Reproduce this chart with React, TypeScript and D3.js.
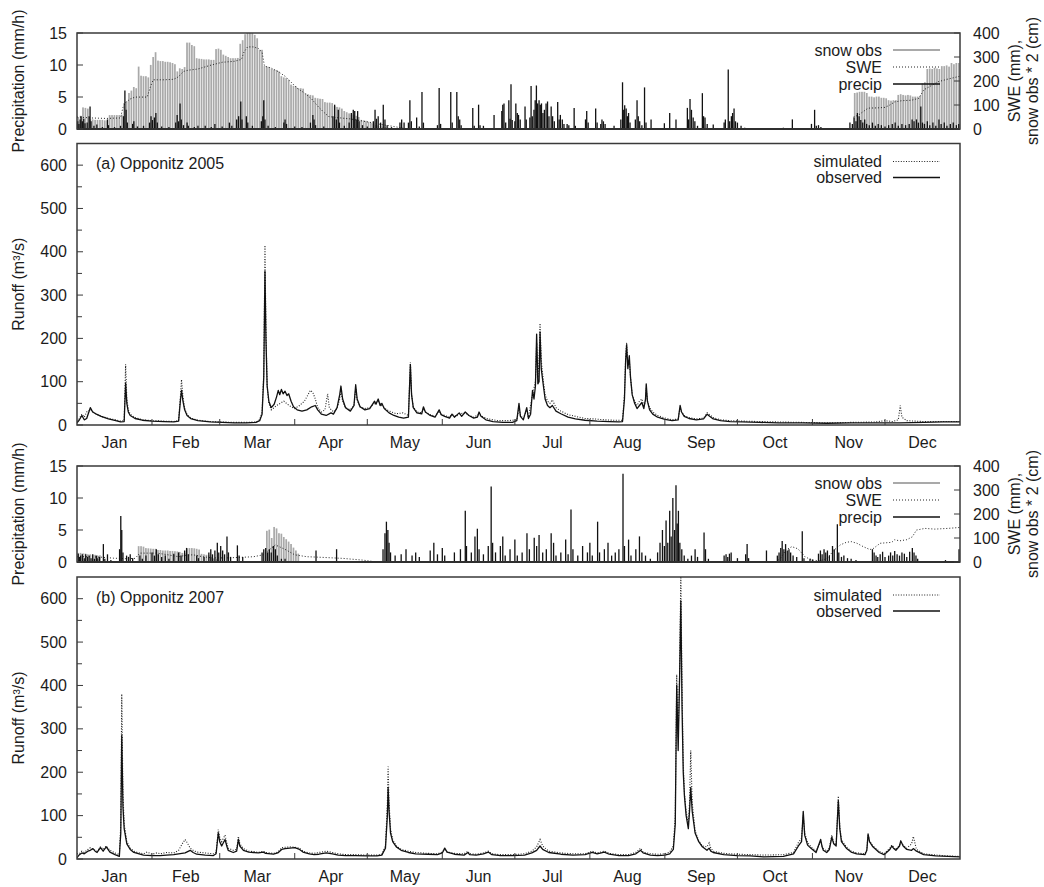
import React, { useEffect } from 'react';
import * as d3 from 'd3';

type Pt = [number, number];

// ---------- axis / label values ----------
const monthLabels = ['Jan', 'Feb', 'Mar', 'Apr', 'May', 'Jun', 'Jul', 'Aug', 'Sep', 'Oct', 'Nov', 'Dec'];
const monthStarts = [0, 31, 59, 90, 120, 151, 181, 212, 243, 273, 304, 334, 365];
const precipTicks = [0, 5, 10, 15];
const snowTicks = [0, 100, 200, 300, 400];
const runoffTicks = [0, 100, 200, 300, 400, 500, 600];
const runoffMinorTicks = [50, 150, 250, 350, 450, 550];

// ---------- 2005: precipitation (mm/h), [day of year, value] ----------
const precip2005: Pt[] = [
  [0.3, 1.2], [0.8, 0.8], [1.3, 1.5], [1.7, 2.0], [2.2, 1.2], [2.8, 1.6], [3.3, 0.9], [4.2, 1.0], [5.0, 2.0], [5.4, 3.5], [5.8, 1.2],
  [7.0, 0.5], [8.2, 0.7], [10.5, 0.3], [12.6, 1.5], [13.0, 0.6], [15.5, 0.3], [18.0, 0.5], [19.2, 2.0], [19.8, 6.0], [20.3, 3.0],
  [20.8, 1.0], [23.0, 0.8], [23.5, 1.2], [25.0, 0.4], [27.5, 0.5], [30.0, 1.0], [30.6, 2.0], [31.2, 1.4], [32.0, 1.8], [32.6, 2.5],
  [33.2, 1.0], [35.0, 0.4], [38.0, 0.3], [40.8, 1.0], [41.4, 2.2], [42.0, 1.2], [42.6, 4.0], [43.1, 1.5], [44.0, 0.6], [45.5, 1.0],
  [46.0, 0.5], [48.5, 0.3], [50.0, 0.5], [53.0, 0.5], [55.5, 0.3], [57.0, 0.8], [60.0, 0.4], [63.0, 1.0], [64.0, 0.5], [66.0, 1.5],
  [66.8, 2.0], [67.7, 4.3], [68.2, 1.5], [70.0, 2.0], [70.6, 1.0], [72.5, 0.5], [76.2, 1.2], [76.8, 2.0], [77.2, 4.5], [77.7, 1.5],
  [79.0, 0.5], [82.0, 0.3], [85.5, 1.0], [86.0, 1.5], [86.6, 0.8], [90.0, 0.4], [93.0, 0.3], [96.5, 1.0], [97.5, 2.2], [98.0, 1.5],
  [98.6, 0.6], [102.0, 0.4], [105.8, 2.0], [106.5, 3.8], [107.2, 1.5], [108.0, 3.0], [108.5, 1.0], [110.5, 0.5], [112.5, 1.0],
  [113.4, 2.5], [114.2, 3.0], [114.8, 2.8], [115.4, 1.5], [116.0, 2.8], [116.6, 1.2], [118.0, 0.6], [120.0, 0.4], [122.5, 1.2],
  [123.2, 3.0], [123.8, 1.6], [124.5, 2.0], [125.5, 1.0], [126.6, 3.8], [127.3, 1.5], [128.2, 0.6], [130.0, 0.3], [133.5, 1.0],
  [134.2, 1.5], [135.2, 1.0], [137.0, 1.0], [137.6, 4.5], [138.2, 1.2], [140.4, 1.8], [141.5, 0.4], [142.6, 5.8], [143.2, 1.0],
  [149.0, 0.6], [149.7, 6.4], [150.3, 0.8], [154.5, 5.8], [155.1, 1.0], [157.0, 5.8], [157.6, 2.0], [158.2, 1.5], [158.8, 0.6],
  [163.6, 3.3], [164.2, 0.5], [166.0, 3.8], [166.6, 0.6], [168.0, 0.5], [172.4, 2.2], [175.6, 2.8], [176.0, 3.8], [176.5, 4.0],
  [177.2, 1.0], [178.5, 4.5], [179.0, 1.6], [179.4, 7.0], [179.9, 1.4], [181.0, 1.2], [181.4, 4.0], [182.0, 2.5], [182.5, 2.2],
  [183.2, 1.5], [185.2, 3.5], [185.7, 1.5], [187.2, 1.8], [187.7, 6.7], [188.2, 2.0], [188.9, 3.0], [189.4, 4.5], [189.9, 6.8],
  [190.4, 4.0], [191.0, 4.5], [191.5, 3.8], [192.0, 4.0], [192.6, 2.5], [193.2, 3.0], [193.9, 4.0], [194.5, 4.3], [195.1, 2.0],
  [196.0, 3.5], [196.6, 2.0], [197.3, 1.2], [198.7, 4.2], [199.3, 1.5], [199.8, 2.2], [200.6, 1.5], [201.3, 0.8], [202.6, 0.8],
  [203.3, 0.6], [205.5, 3.3], [206.0, 0.5], [210.2, 1.5], [210.7, 2.8], [211.3, 1.0], [214.4, 3.2], [215.0, 1.0], [216.5, 0.8],
  [217.0, 1.5], [217.6, 1.2], [218.3, 0.8], [222.0, 0.5], [224.8, 1.5], [225.5, 7.3], [226.0, 3.0], [226.4, 3.7], [227.0, 3.2],
  [227.5, 2.0], [228.0, 2.5], [228.6, 1.0], [230.8, 1.5], [231.5, 4.5], [232.0, 2.0], [232.6, 1.2], [233.5, 0.6], [234.6, 6.5],
  [235.2, 1.0], [237.3, 1.5], [242.8, 0.9], [245.0, 2.5], [247.6, 1.5], [252.3, 3.3], [252.8, 1.5], [253.4, 4.7], [254.0, 3.0],
  [254.7, 1.8], [255.4, 1.2], [256.5, 0.5], [258.5, 5.6], [259.0, 2.0], [259.6, 1.8], [260.5, 0.8], [263.0, 0.7], [267.5, 1.0],
  [268.0, 1.5], [269.2, 9.3], [269.8, 1.2], [270.5, 2.0], [271.0, 2.5], [271.6, 3.2], [272.2, 1.2], [273.0, 1.0], [274.5, 0.5],
  [276.0, 0.2], [292.0, 0.2], [295.7, 1.5], [303.6, 0.8], [304.9, 3.0], [305.6, 0.5], [306.5, 0.6], [307.5, 0.3], [319.5, 1.0],
  [320.5, 0.8], [321.2, 1.8], [322.0, 1.2], [322.6, 2.5], [323.3, 2.0], [324.0, 1.4], [324.8, 1.0], [325.6, 1.5], [326.4, 0.8],
  [327.5, 0.6], [328.8, 1.0], [330.0, 0.5], [331.2, 0.8], [332.5, 0.6], [334.0, 0.4], [335.5, 0.6], [337.0, 0.8], [338.2, 1.0],
  [339.5, 0.5], [341.0, 0.8], [342.5, 0.6], [344.0, 0.8], [345.2, 1.5], [346.0, 1.2], [347.0, 1.5], [347.8, 1.0], [348.8, 3.5],
  [349.5, 1.0], [350.3, 0.8], [351.5, 1.2], [352.5, 0.6], [353.8, 1.0], [355.0, 0.5], [356.3, 1.5], [357.2, 0.8], [358.5, 1.0],
  [359.6, 0.5], [361.0, 0.8], [362.2, 1.0], [363.5, 0.6], [364.5, 0.8],
];

// 2005: observed snow depth * 2 (cm), one bar per day
const snowObs2005: Pt[] = [
  [0, 50], [1, 55], [2, 90], [3, 88], [4, 85], [5, 40], [6, 40], [7, 38], [8, 38], [9, 38], [10, 38], [11, 36], [12, 36],
  [13, 58], [14, 58], [15, 58], [16, 58], [17, 58], [18, 60], [19, 108], [20, 115], [21, 150], [22, 160], [23, 175], [24, 170],
  [25, 260], [26, 222], [27, 220], [28, 220], [29, 215], [30, 267], [31, 300], [32, 320], [33, 285], [34, 283], [35, 283],
  [36, 280], [37, 280], [38, 278], [39, 275], [40, 270], [41, 240], [42, 253], [43, 250], [44, 258], [45, 360], [46, 360],
  [47, 350], [48, 345], [49, 295], [50, 293], [51, 292], [52, 290], [53, 290], [54, 290], [55, 288], [56, 288], [57, 333],
  [58, 335], [59, 330], [60, 310], [61, 305], [62, 300], [63, 295], [64, 295], [65, 295], [66, 296], [67, 355], [68, 370],
  [69, 395], [70, 400], [71, 400], [72, 400], [73, 392], [74, 378], [75, 330], [76, 330], [77, 262], [78, 260], [79, 258],
  [80, 250], [81, 248], [82, 246], [83, 240], [84, 220], [85, 215], [86, 212], [87, 205], [88, 185], [89, 180], [90, 178],
  [91, 170], [92, 170], [93, 168], [94, 148], [95, 145], [96, 142], [97, 140], [98, 130], [99, 128], [100, 126], [101, 125],
  [102, 112], [103, 110], [104, 110], [105, 108], [106, 95], [107, 92], [108, 90], [109, 85], [110, 75], [111, 70], [112, 65],
  [113, 60], [114, 58], [115, 55], [116, 50], [117, 38], [118, 36], [119, 34], [120, 30], [121, 26], [122, 22], [123, 18],
  [124, 15], [125, 12], [126, 10], [127, 8], [128, 6],
  [321, 150], [322, 152], [323, 155], [324, 155], [325, 155], [326, 150], [327, 135], [328, 135], [329, 132], [330, 135],
  [331, 135], [332, 130], [333, 130], [334, 128], [335, 120], [336, 118], [337, 120], [338, 120], [339, 142], [340, 145],
  [341, 142], [342, 140], [343, 142], [344, 140], [345, 135], [346, 135], [347, 135], [348, 138], [349, 190], [350, 195],
  [351, 250], [352, 252], [353, 250], [354, 255], [355, 252], [356, 250], [357, 262], [358, 262], [359, 265], [360, 260],
  [361, 275], [362, 270], [363, 275], [364, 275],
];

// 2005: simulated snow water equivalent (mm)
const sweSpring2005: Pt[] = [
  [0, 50], [3, 48], [6, 46], [9, 45], [12, 44], [15, 45], [18, 46], [19, 90], [20, 110], [22, 125], [24, 133], [29, 133],
  [30.5, 180], [31.5, 205], [36, 205], [40, 207], [42, 218], [44, 240], [46, 245], [50, 250], [55, 265], [60, 278], [65, 282],
  [68, 290], [69, 320], [70.5, 342], [73, 342], [75, 335], [76.5, 320], [77.5, 262], [80, 255], [83, 240], [86, 220], [89, 190],
  [91, 170], [94, 150], [97, 125], [100, 90], [102, 70], [104, 52], [107, 48], [110, 45], [113, 42], [117, 35], [121, 28],
  [125, 20], [130, 12], [134, 5], [136, 0],
];
const sweWinter2005: Pt[] = [
  [321, 50], [323, 58], [327, 87], [331, 88], [334, 90], [336, 100], [338, 113], [341, 118], [345, 120], [348, 128], [350, 163],
  [353, 180], [356, 197], [360, 208], [365, 220],
];

// 2005: runoff (m³/s)
const runoffObs2005: Pt[] = [
  [0, 5], [1, 12], [2, 22], [3, 12], [4, 15], [5.5, 40], [6.5, 30], [8, 25], [10, 20], [13, 14], [16, 10], [18, 7], [19.5, 8],
  [20.1, 97], [20.6, 50], [21.2, 30], [22, 22], [24, 15], [27, 11], [31, 9], [36, 8], [40, 7], [42, 9], [42.8, 60], [43.2, 80],
  [43.8, 55], [44.5, 35], [45.5, 22], [47, 15], [50, 10], [55, 7], [60, 6], [65, 5], [70, 5], [74, 6], [75.5, 10], [76.5, 25],
  [77.2, 110], [77.7, 355], [78.1, 200], [78.6, 90], [79.3, 55], [80.3, 40], [81.5, 48], [82.5, 65], [83.2, 80], [83.8, 70],
  [84.5, 82], [85.2, 72], [86, 78], [86.8, 68], [87.5, 72], [88.5, 55], [89.5, 42], [91, 35], [93, 32], [95, 35], [97, 42],
  [98.5, 45], [99.5, 35], [101, 25], [103, 22], [105, 28], [106, 25], [107.5, 40], [108.6, 70], [109.1, 90], [109.8, 60],
  [111, 40], [113, 32], [114.5, 45], [115.2, 93], [115.8, 60], [117, 42], [119, 35], [121, 38], [123, 55], [123.6, 48],
  [124.5, 60], [125.3, 45], [126, 50], [127, 38], [129, 28], [131, 22], [133, 18], [135, 16], [137, 18], [137.8, 140],
  [138.3, 70], [139, 40], [140.5, 28], [142.5, 26], [143.2, 42], [144, 30], [146, 22], [148, 18], [149.7, 35], [150.5, 24],
  [152, 20], [154, 16], [155, 25], [156, 18], [158, 28], [159, 20], [160.5, 30], [162, 22], [164, 16], [165.5, 18], [166.2, 30],
  [167, 20], [169, 12], [172, 8], [176, 6], [180, 6], [181.8, 10], [182.7, 50], [183.3, 20], [184.5, 12], [185.9, 40],
  [186.6, 15], [187.5, 25], [188.3, 80], [188.9, 60], [189.5, 90], [190, 210], [190.5, 95], [191, 100], [191.4, 215],
  [191.9, 130], [192.8, 90], [193.5, 60], [194.5, 45], [195.5, 40], [196.5, 45], [198, 32], [200, 26], [203, 18], [206, 14],
  [210, 11], [215, 9], [220, 8], [224, 7], [225.5, 8], [226.3, 60], [226.8, 150], [227.2, 185], [227.7, 130], [228.3, 160],
  [228.8, 110], [229.5, 70], [230.5, 50], [231.5, 38], [232.5, 45], [233.5, 52], [234.3, 38], [235, 60], [235.3, 95],
  [235.8, 55], [236.7, 35], [238, 25], [240, 18], [243, 13], [246, 10], [248.5, 12], [249.3, 45], [249.9, 30], [251, 20],
  [253, 15], [256, 12], [259, 14], [260.5, 25], [261.5, 20], [263, 14], [266, 10], [270, 8], [275, 7], [282, 6], [290, 5],
  [300, 5], [310, 4], [320, 5], [330, 5], [340, 5], [350, 6], [358, 7], [365, 7],
];
const runoffSim2005: Pt[] = [
  [0, 8], [1, 15], [2, 25], [3, 18], [4, 30], [5.5, 35], [7, 28], [10, 20], [13, 15], [16, 12], [18, 9], [19.5, 10],
  [20.1, 140], [20.6, 60], [21.2, 35], [22, 25], [24, 17], [27, 12], [31, 10], [36, 9], [40, 8], [42, 10], [42.8, 70],
  [43.2, 105], [43.8, 65], [44.5, 38], [45.5, 24], [47, 16], [50, 11], [55, 8], [60, 7], [65, 6], [70, 6], [74, 7], [75.5, 12],
  [76.5, 30], [77.2, 120], [77.7, 415], [78.1, 220], [78.6, 90], [79.3, 50], [80.3, 35], [81.5, 40], [82.5, 45], [84, 50],
  [85.5, 55], [87, 48], [88.5, 42], [90, 38], [92, 45], [94, 55], [95.5, 70], [96.5, 80], [97.5, 75], [98.5, 60], [99.5, 40],
  [101, 30], [102.5, 35], [103.6, 72], [104.3, 40], [106, 30], [107.5, 38], [108.6, 60], [109.1, 80], [109.8, 55], [111, 40],
  [113, 35], [114.5, 45], [115.2, 85], [115.8, 58], [117, 42], [119, 38], [121, 40], [123, 50], [124.5, 55], [126, 45],
  [128, 35], [130, 30], [132, 26], [134.7, 28], [137, 22], [137.8, 145], [138.3, 70], [139, 42], [140.5, 30], [142.5, 28],
  [143.2, 38], [144, 30], [146, 24], [148, 20], [149.7, 32], [150.5, 25], [152, 22], [154, 18], [155, 24], [157, 20], [158, 26],
  [160.5, 28], [162, 22], [164, 18], [166.2, 25], [168, 18], [170, 14], [174, 10], [178, 10], [181.8, 12], [182.7, 40],
  [183.3, 22], [184.5, 15], [185.9, 35], [186.6, 18], [188.3, 70], [189.5, 100], [190, 190], [190.5, 110], [191, 150],
  [191.4, 235], [191.9, 150], [192.8, 100], [193.5, 70], [194.5, 55], [195.5, 50], [196.5, 58], [198, 40], [200, 32],
  [203, 24], [206, 20], [210, 15], [214, 14], [218, 12], [222, 11], [225.5, 11], [226.3, 70], [226.8, 160], [227.2, 190],
  [227.7, 140], [228.3, 150], [228.8, 110], [229.5, 70], [230.5, 55], [231.5, 45], [232.5, 55], [233.5, 60], [234.3, 45],
  [235, 55], [235.3, 85], [235.8, 55], [236.7, 40], [238, 30], [240, 22], [243, 16], [246, 12], [248.5, 14], [249.3, 40],
  [249.9, 30], [251, 22], [253, 17], [256, 14], [259, 16], [260.5, 28], [261.5, 24], [263, 17], [266, 12], [270, 10], [275, 9],
  [282, 8], [290, 7], [300, 6], [310, 5], [320, 6], [330, 7], [334, 10], [337, 8], [339.5, 12], [340.3, 45], [341, 18],
  [343, 10], [350, 8], [358, 8], [365, 8],
];

// ---------- 2007: precipitation (mm/h) ----------
const precip2007: Pt[] = [
  [0.5, 1.3], [1.0, 0.8], [1.5, 1.0], [2.2, 1.2], [3.0, 0.6], [3.6, 1.2], [4.3, 0.8], [5.0, 1.0], [5.8, 0.6], [6.5, 1.2],
  [7.2, 0.5], [8.0, 1.0], [8.6, 0.6], [9.3, 0.8], [10.9, 2.8], [11.5, 0.5], [12.6, 1.2], [14.0, 0.3], [17.6, 2.0], [18.1, 7.2],
  [18.5, 5.0], [19.0, 1.5], [20.5, 1.0], [21.3, 0.8], [22.0, 1.2], [23.0, 0.6], [26.0, 1.0], [27.0, 0.5], [28.5, 1.0],
  [31.0, 1.5], [32.0, 1.0], [32.8, 2.0], [33.6, 1.2], [35.0, 0.8], [36.5, 1.0], [38.0, 0.5], [40.0, 1.3], [42.0, 1.5],
  [43.0, 1.0], [44.5, 1.8], [45.3, 2.2], [46.0, 1.2], [49.5, 1.0], [50.2, 0.6], [52.5, 0.8], [54.5, 1.5], [55.3, 2.0],
  [56.0, 1.2], [57.0, 1.8], [58.0, 3.0], [58.6, 1.5], [59.4, 2.5], [60.2, 1.8], [61.0, 1.2], [62.0, 4.0], [62.6, 1.5],
  [63.5, 0.8], [66.3, 2.6], [67.0, 1.0], [68.5, 0.8], [76.5, 1.5], [77.2, 2.0], [78.0, 2.2], [78.8, 1.5], [79.5, 2.0],
  [80.3, 1.5], [81.2, 2.5], [82.0, 2.0], [82.8, 1.0], [84.5, 0.5], [86.0, 0.5], [98.8, 1.8], [107.3, 2.0],
  [126.5, 2.0], [127.3, 4.5], [127.9, 6.3], [128.5, 5.0], [129.0, 3.0], [129.6, 1.5], [131.5, 1.0], [134, 1.2], [136, 2.0],
  [138.5, 1.0], [140, 1.5], [141.5, 0.8], [146, 1.8], [147.5, 3.0], [149, 1.2], [151, 2.2], [152, 1.0], [156, 1.5],
  [158.5, 2.0], [160.5, 8.0], [161, 2.5], [163, 1.5], [164.5, 4.0], [165.5, 5.2], [166.2, 2.0], [168, 1.2], [170, 2.5],
  [171.2, 11.8], [171.8, 3.0], [173, 1.5], [175, 2.5], [176, 4.0], [177, 1.0], [179, 2.0], [181, 3.5], [182, 1.0], [184, 1.5],
  [186, 4.5], [187, 2.0], [189, 3.8], [190, 2.5], [191, 4.2], [192.5, 1.5], [194, 2.0], [196, 4.5], [197, 3.0], [198, 1.0],
  [200, 1.5], [202, 3.5], [203, 1.2], [204.2, 8.2], [205, 2.0], [207, 1.0], [209, 2.5], [211, 1.5], [212, 3.0], [213, 1.0],
  [215.2, 6.3], [216, 1.5], [218, 2.0], [219.5, 3.0], [221, 1.0], [222.5, 1.5], [224, 2.0], [225.7, 13.8], [226.3, 2.5],
  [228, 3.5], [229, 1.0], [231, 2.0], [232.5, 4.0], [233.5, 1.5], [235, 1.0], [237, 0.5], [240, 1.5], [241, 3.0], [242, 5.0],
  [242.8, 2.5], [243.5, 6.5], [244.2, 3.0], [245, 8.0], [245.6, 4.0], [246.3, 10.0], [247, 5.0], [247.6, 12.0], [248.1, 6.0],
  [248.6, 8.0], [249.2, 3.0], [250, 2.0], [251, 1.0], [252.5, 0.5], [254, 1.0], [255.5, 2.0], [256.5, 0.8], [259.2, 4.6],
  [259.8, 2.0], [261, 0.5], [267.5, 1.0], [268.3, 1.2], [269, 0.8], [269.7, 1.3], [270.4, 1.5], [273, 0.6], [276.4, 1.2],
  [277.0, 2.8], [277.6, 0.6], [285.0, 1.8], [289.5, 1.0], [290.2, 1.5], [290.9, 2.2], [291.5, 3.3], [292.2, 2.0], [292.9, 2.8],
  [293.6, 1.8], [294.3, 2.0], [295, 1.5], [296, 1.0], [297.5, 0.8], [299.8, 4.8], [300.5, 0.6], [303, 0.5], [304, 0.4],
  [306.5, 1.3], [307.3, 1.8], [308, 1.2], [308.8, 2.0], [309.5, 1.5], [310.2, 1.8], [311, 1.0], [312.3, 2.5], [313, 2.0],
  [314.3, 5.9], [314.9, 1.5], [316, 0.8], [317, 1.0], [318.5, 0.6], [320, 0.5], [322, 0.3], [328.8, 2.0], [329.5, 1.5],
  [330.3, 1.0], [331, 0.8], [332, 1.2], [333, 1.6], [334, 0.8], [335.5, 1.0], [336.3, 1.5], [337.2, 1.0], [338, 1.7],
  [339, 1.2], [340, 1.0], [341, 1.5], [342, 1.3], [343, 0.8], [344.2, 1.6], [345.3, 2.2], [346, 1.5], [346.8, 1.0],
  [347.5, 0.5], [359, 0.3], [364.6, 2.0],
];

// 2007: observed snow depth * 2 (cm)
const snowObs2007: Pt[] = [
  [0, 38], [1, 38], [2, 36], [3, 35], [4, 32], [5, 32], [6, 30], [7, 30], [8, 28], [9, 28],
  [25, 66], [26, 66], [27, 64], [28, 58], [29, 57], [30, 56], [31, 55], [32, 55], [33, 50], [34, 50], [35, 48], [36, 48],
  [37, 48], [38, 46], [39, 46], [40, 45], [41, 44], [42, 42], [43, 38], [44, 37], [45, 57], [46, 58], [47, 58], [48, 57],
  [49, 55], [50, 52], [51, 34], [52, 32], [53, 30], [54, 28], [55, 20], [56, 15], [57, 12], [58, 10],
  [78, 130], [79, 135], [80, 100], [81, 146], [82, 140], [83, 120], [84, 118], [85, 104], [86, 95], [87, 85], [88, 75],
  [89, 60], [90, 48], [91, 35],
];

// 2007: simulated snow water equivalent (mm)
const sweSpring2007: Pt[] = [
  [0, 22], [5, 22], [10, 20], [15, 16], [20, 14], [24, 15], [26, 37], [33, 37], [37, 31], [42, 22], [45, 28], [48, 30],
  [52, 22], [56, 17], [62, 17], [69, 20], [73, 22], [77, 30], [80, 55], [82, 71], [84, 62], [86.5, 50], [90, 30], [95, 22],
  [100, 20], [110, 15], [118, 8], [124, 0],
];
const sweWinter2007: Pt[] = [
  [289, 0], [291, 18], [293, 50], [295.5, 64], [298, 55], [301, 21], [304, 8], [307, 5], [310, 14], [313, 50], [315.5, 71],
  [318, 82], [320, 85], [322.4, 78], [325, 64], [327.7, 52], [329, 55], [332, 78], [336.8, 82], [338, 93], [340, 88],
  [343, 93], [345.3, 105], [347, 133], [350.5, 140], [354.6, 137], [360, 140], [365, 144],
];

// 2007: runoff (m³/s)
const runoffObs2007: Pt[] = [
  [0, 3], [1, 10], [2, 14], [3, 12], [4.5, 18], [5.5, 20], [6.6, 24], [7.5, 18], [8.3, 15], [9.7, 26], [10.8, 18], [12.1, 28],
  [13.6, 16], [15.7, 10], [17.5, 6], [18.1, 60], [18.5, 285], [19, 120], [19.5, 70], [20.6, 35], [22, 22], [23.5, 15],
  [27.5, 9], [31, 8], [34.4, 8], [37, 9], [40, 10], [42, 12], [44.7, 14], [46.8, 20], [48, 15], [49.5, 11], [53, 9], [56.4, 8],
  [57.5, 12], [58.4, 60], [59, 40], [59.8, 30], [61.2, 45], [62, 28], [62.5, 20], [64.6, 15], [66, 18], [66.7, 45], [67.3, 30],
  [68.8, 20], [71, 16], [73, 15], [75, 14], [77, 16], [78, 13], [81.2, 11], [83, 14], [84.6, 22], [86, 24], [88, 25], [90, 26],
  [92, 22], [93.4, 16], [96, 12], [98, 10], [100, 11], [103, 14], [105.6, 12], [108, 9], [111, 8], [115, 8], [120, 7], [124, 7],
  [126, 9], [127.5, 25], [128.3, 100], [128.6, 165], [129, 110], [129.6, 60], [130.5, 40], [132, 28], [134, 20], [137, 15],
  [140, 12], [145, 11], [149, 10], [151, 14], [152, 25], [153, 16], [156, 11], [160, 9], [161.6, 15], [162.3, 10], [165, 9],
  [168, 12], [170, 16], [171.5, 10], [175, 8], [180, 8], [185, 9], [188, 14], [190, 20], [191.4, 30], [192.5, 22], [195, 15],
  [200, 11], [205, 9], [210, 10], [213, 15], [215, 12], [218, 16], [220, 11], [224, 8], [228, 8], [231, 12], [233, 20],
  [234, 14], [237, 9], [240, 8], [243, 9], [245, 12], [246.5, 22], [247.3, 80], [247.9, 400], [248.5, 250], [249.1, 420],
  [249.6, 595], [250.1, 350], [250.6, 200], [251.1, 145], [251.8, 100], [252.7, 70], [253.2, 110], [253.7, 165], [254.3, 110],
  [255.5, 60], [257, 40], [258.5, 28], [260.4, 20], [261.3, 25], [262, 18], [263, 15], [267.3, 10], [272.8, 8], [278.3, 7],
  [283.8, 5], [292, 6], [296.2, 12], [298.2, 30], [299.5, 40], [300.2, 110], [300.8, 55], [302, 32], [303.4, 25], [305.5, 15],
  [307.4, 45], [308, 28], [308.5, 20], [309.9, 15], [311, 22], [312, 50], [312.8, 35], [313.8, 30], [314.7, 135], [315.3, 70],
  [316, 40], [318, 25], [320, 16], [322.3, 12], [325.7, 10], [326.5, 20], [327, 58], [327.6, 40], [329, 28], [331.6, 15],
  [333.6, 10], [336, 22], [336.8, 30], [337.5, 25], [338.5, 20], [340, 30], [340.5, 42], [341.5, 30], [343, 22], [345, 20],
  [345.7, 24], [347, 18], [350, 10], [355, 7], [360, 6], [365, 5],
];
const runoffSim2007: Pt[] = [
  [0, 12], [1, 12], [2, 18], [3, 15], [4.5, 22], [5.5, 26], [6.6, 22], [8.3, 18], [9.7, 28], [10.8, 22], [12.1, 30], [13.6, 20],
  [15.7, 14], [17.5, 10], [18.1, 80], [18.5, 380], [19, 150], [19.5, 80], [20.6, 40], [22, 25], [23.5, 18], [25, 15],
  [27.5, 12], [29, 16], [31, 11], [33, 14], [34.4, 12], [37, 15], [40, 14], [42, 20], [43.5, 35], [44.7, 45], [45.5, 38],
  [46.8, 25], [48, 20], [49.5, 16], [53, 14], [56.4, 12], [57.5, 15], [58.4, 68], [59, 50], [59.8, 40], [61.2, 55], [62, 35],
  [62.5, 25], [64.6, 20], [66, 22], [66.7, 52], [67.3, 35], [68.8, 24], [71, 18], [73, 17], [75, 15], [77, 18], [78, 15],
  [81.2, 13], [83, 16], [84.6, 26], [86, 27], [88, 28], [90, 27], [92, 25], [93.4, 18], [96, 14], [98, 13], [100, 15],
  [103, 18], [105.6, 15], [108, 12], [111, 10], [115, 10], [120, 9], [124, 9], [126, 11], [127.5, 30], [128.3, 130],
  [128.6, 213], [129, 130], [129.6, 70], [130.5, 45], [132, 30], [134, 22], [137, 18], [140, 15], [145, 13], [149, 12],
  [151, 16], [152, 22], [153, 16], [156, 13], [160, 12], [161.6, 18], [162.3, 12], [165, 11], [168, 14], [170, 18],
  [171.5, 12], [175, 10], [180, 10], [185, 12], [188, 18], [190, 28], [191.4, 45], [192.5, 30], [195, 18], [200, 14],
  [205, 12], [210, 12], [213, 18], [215, 14], [218, 18], [220, 13], [224, 10], [228, 10], [231, 15], [233, 25], [234, 16],
  [237, 12], [240, 11], [243, 12], [245, 16], [246.5, 30], [247.3, 100], [247.9, 425], [248.5, 280], [249.1, 430],
  [249.6, 660], [250.1, 400], [250.6, 220], [251.1, 150], [251.8, 110], [252.7, 80], [253.2, 130], [253.7, 250], [254.3, 130],
  [255.5, 65], [257, 42], [258.5, 30], [260.4, 28], [261.3, 37], [262, 25], [263, 18], [267.3, 13], [272.8, 11], [278.3, 10],
  [283.8, 9], [292, 10], [296.2, 15], [298.2, 38], [299.5, 48], [300.2, 100], [300.8, 60], [302, 38], [303.4, 28],
  [305.5, 18], [307.4, 40], [308, 30], [308.5, 24], [309.9, 18], [311, 26], [312, 55], [312.8, 38], [313.8, 32], [314.7, 145],
  [315.3, 75], [316, 45], [318, 28], [320, 18], [322.3, 14], [325.7, 12], [326.5, 22], [327, 55], [327.6, 42], [329, 30],
  [331.6, 18], [333.6, 12], [336, 25], [336.8, 32], [337.5, 28], [338.5, 22], [340, 32], [340.5, 38], [341.5, 32], [343, 25],
  [345, 35], [345.7, 52], [347, 22], [350, 12], [355, 9], [360, 7], [365, 6],
];

// ---------- layout ----------
const W = 1044;
const H = 887;
const X0 = 77;
const X1 = 960;
const FONT = '"Liberation Sans", Arial, Helvetica, sans-serif';
const FS = 16;
const TEXT = '#1c1c1c';
const FRAME = '#3a3a3a';

const x = d3.scaleLinear().domain([0, 365]).range([X0, X1]);

interface PrecipProps {
  top: number;
  bottom: number;
  precip: Pt[];
  snow: Pt[];
  swe: Pt[][];
}

function PrecipPanel({ top, bottom, precip, snow, swe }: PrecipProps) {
  const yP = d3.scaleLinear().domain([0, 15]).range([bottom, top]);
  const yS = d3.scaleLinear().domain([0, 400]).range([bottom, top]);
  const line = d3
    .line<Pt>()
    .x((d) => x(d[0]))
    .y((d) => yS(d[1]));
  const dayW = x(1) - x(0);
  const mid = (top + bottom) / 2;
  const legendX = 882;
  const rows = [top + 17, top + 34, top + 51];
  return (
    <g>
      {snow.map((d, i) => (
        <rect
          key={'s' + i}
          x={x(d[0]) + 0.3}
          y={yS(d[1])}
          width={dayW - 0.7}
          height={bottom - yS(d[1])}
          fill="#a9a9a9"
        />
      ))}
      {swe.map((seg, i) => (
        <path key={'w' + i} d={line(seg) || ''} fill="none" stroke="#222" strokeWidth={1} strokeDasharray="1,2" />
      ))}
      {precip.map((d, i) => (
        <line
          key={'p' + i}
          x1={x(d[0])}
          x2={x(d[0])}
          y1={bottom}
          y2={yP(d[1])}
          stroke="#111"
          strokeWidth={1.3}
        />
      ))}
      <line x1={X0} x2={X1} y1={bottom} y2={bottom} stroke="#111" strokeWidth={1.8} />
      <rect x={X0} y={top} width={X1 - X0} height={bottom - top} fill="none" stroke={FRAME} strokeWidth={1.5} />
      {precipTicks.map((t) => (
        <g key={'lt' + t}>
          <line x1={X0} x2={X0 + 6} y1={yP(t)} y2={yP(t)} stroke={FRAME} strokeWidth={1} />
          <text x={X0 - 10} y={yP(t)} textAnchor="end" dominantBaseline="central" fontSize={FS} fontFamily={FONT} fill={TEXT}>
            {t}
          </text>
        </g>
      ))}
      {snowTicks.map((t) => (
        <g key={'rt' + t}>
          <line x1={X1 - 6} x2={X1} y1={yS(t)} y2={yS(t)} stroke={FRAME} strokeWidth={1} />
          <text x={X1 + 13} y={yS(t)} textAnchor="start" dominantBaseline="central" fontSize={FS} fontFamily={FONT} fill={TEXT}>
            {t}
          </text>
        </g>
      ))}
      {/* legend */}
      <g fontSize={FS} fontFamily={FONT} fill={TEXT}>
        <rect x={legendX - 90} y={top + 6} width={160} height={54} fill="white" opacity={0} />
        <text x={legendX} y={rows[0]} textAnchor="end" dominantBaseline="central">snow obs</text>
        <line x1={893} x2={940} y1={rows[0]} y2={rows[0]} stroke="#a9a9a9" strokeWidth={2} />
        <text x={legendX} y={rows[1]} textAnchor="end" dominantBaseline="central">SWE</text>
        <line x1={893} x2={940} y1={rows[1]} y2={rows[1]} stroke="#222" strokeWidth={1} strokeDasharray="1,2" />
        <text x={legendX} y={rows[2]} textAnchor="end" dominantBaseline="central">precip</text>
        <line x1={893} x2={940} y1={rows[2]} y2={rows[2]} stroke="#111" strokeWidth={1.3} />
      </g>
      {/* axis titles */}
      <text
        transform={`translate(18,${mid}) rotate(-90)`}
        textAnchor="middle"
        dominantBaseline="central"
        fontSize={FS}
        fontFamily={FONT}
        fill={TEXT}
      >
        Precipitation (mm/h)
      </text>
      <text
        transform={`translate(1014,${mid}) rotate(-90)`}
        textAnchor="middle"
        dominantBaseline="central"
        fontSize={FS}
        fontFamily={FONT}
        fill={TEXT}
      >
        SWE (mm),
      </text>
      <text
        transform={`translate(1032,${mid}) rotate(-90)`}
        textAnchor="middle"
        dominantBaseline="central"
        fontSize={FS}
        fontFamily={FONT}
        fill={TEXT}
      >
        snow obs * 2 (cm)
      </text>
    </g>
  );
}

interface RunoffProps {
  top: number;
  bottom: number;
  obs: Pt[];
  sim: Pt[];
  title: string;
  clipId: string;
}

function RunoffPanel({ top, bottom, obs, sim, title, clipId }: RunoffProps) {
  const y = d3.scaleLinear().domain([0, 650]).range([bottom, top]);
  const line = d3
    .line<Pt>()
    .x((d) => x(d[0]))
    .y((d) => y(d[1]));
  const mid = (top + bottom) / 2;
  return (
    <g>
      <defs>
        <clipPath id={clipId}>
          <rect x={X0} y={top} width={X1 - X0} height={bottom - top} />
        </clipPath>
      </defs>
      <g clipPath={`url(#${clipId})`}>
        <path d={line(sim) || ''} fill="none" stroke="#222" strokeWidth={1.1} strokeDasharray="1,1.6" />
        <path d={line(obs) || ''} fill="none" stroke="#111" strokeWidth={1.3} strokeLinejoin="round" />
      </g>
      <rect x={X0} y={top} width={X1 - X0} height={bottom - top} fill="none" stroke={FRAME} strokeWidth={1.5} />
      {runoffTicks.map((t) => (
        <g key={'t' + t}>
          <line x1={X0} x2={X0 + 6} y1={y(t)} y2={y(t)} stroke={FRAME} strokeWidth={1} />
          <text x={X0 - 10} y={y(t)} textAnchor="end" dominantBaseline="central" fontSize={FS} fontFamily={FONT} fill={TEXT}>
            {t}
          </text>
        </g>
      ))}
      {runoffMinorTicks.map((t) => (
        <line key={'m' + t} x1={X0} x2={X0 + 5} y1={y(t)} y2={y(t)} stroke={FRAME} strokeWidth={1} />
      ))}
      {monthStarts.slice(1, -1).map((d) => (
        <line key={'xt' + d} x1={x(d)} x2={x(d)} y1={bottom} y2={bottom - 6} stroke={FRAME} strokeWidth={1} />
      ))}
      {monthLabels.map((m, i) => (
        <text
          key={m}
          x={x((monthStarts[i] + monthStarts[i + 1]) / 2)}
          y={bottom + 17}
          textAnchor="middle"
          dominantBaseline="central"
          fontSize={FS}
          fontFamily={FONT}
          fill={TEXT}
        >
          {m}
        </text>
      ))}
      <text x={96} y={top + 20} dominantBaseline="central" fontSize={FS} fontFamily={FONT} fill={TEXT}>
        {title}
      </text>
      <g fontSize={FS} fontFamily={FONT} fill={TEXT}>
        <text x={882} y={top + 18} textAnchor="end" dominantBaseline="central">simulated</text>
        <line x1={893} x2={940} y1={top + 18} y2={top + 18} stroke="#222" strokeWidth={1} strokeDasharray="1,1.6" />
        <text x={882} y={top + 34} textAnchor="end" dominantBaseline="central">observed</text>
        <line x1={893} x2={940} y1={top + 34} y2={top + 34} stroke="#111" strokeWidth={1.3} />
      </g>
      <text
        transform={`translate(18,${mid}) rotate(-90)`}
        textAnchor="middle"
        dominantBaseline="central"
        fontSize={FS}
        fontFamily={FONT}
        fill={TEXT}
      >
        Runoff (m³/s)
      </text>
    </g>
  );
}

export default function App() {
  useEffect(() => {
    document.body.style.margin = '0';
  }, []);
  return (
    <svg width={W} height={H} viewBox={`0 0 ${W} ${H}`} style={{ display: 'block', background: '#fff' }}>
      <rect width={W} height={H} fill="#fff" />
      <PrecipPanel top={33} bottom={129} precip={precip2005} snow={snowObs2005} swe={[sweSpring2005, sweWinter2005]} />
      <RunoffPanel top={143.5} bottom={425} obs={runoffObs2005} sim={runoffSim2005} title="(a) Opponitz 2005" clipId="clip2005" />
      <PrecipPanel top={466} bottom={562} precip={precip2007} snow={snowObs2007} swe={[sweSpring2007, sweWinter2007]} />
      <RunoffPanel top={577} bottom={859} obs={runoffObs2007} sim={runoffSim2007} title="(b) Opponitz 2007" clipId="clip2007" />
    </svg>
  );
}
